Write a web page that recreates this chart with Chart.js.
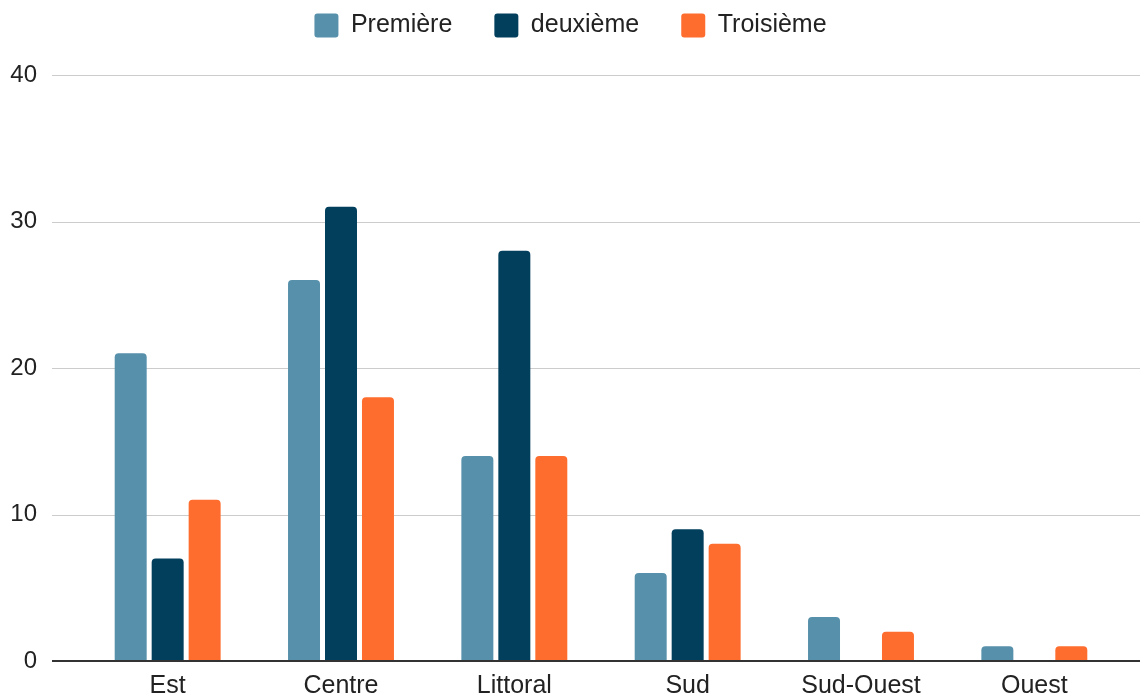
<!DOCTYPE html>
<html>
<head>
<meta charset="utf-8">
<script src="https://cdn.jsdelivr.net/npm/chart.js@4/dist/chart.umd.min.js"></script>
<style>
  html, body { margin: 0; padding: 0; background: #fff; }
  #wrap { width: 1140px; height: 695px; position: relative; }
</style>
</head>
<body>
<div id="wrap"><canvas id="c"></canvas></div>
<script>
const categories = ['Est', 'Centre', 'Littoral', 'Sud', 'Sud-Ouest', 'Ouest'];
const premiere = [21, 26, 14, 6, 3, 1];
const deuxieme = [7, 31, 28, 9, 0, 0];
const troisieme = [11, 18, 14, 8, 2, 1];
const seriesNames = ['Première', 'deuxième', 'Troisième'];
const yTicks = [0, 10, 20, 30, 40];

const FONT = "'Liberation Sans', Arial, sans-serif";
const LEGEND_PAD = 42;

const gridPlugin = {
  id: 'extGrid',
  beforeInit(chart) {
    const lg = chart.legend;
    if (lg) {
      const orig = lg.fit.bind(lg);
      lg.fit = function () { orig(); this.height = 75; };
    }
  },
  afterLayout(chart) {
    const lg = chart.legend;
    if (lg) {
      const d = LEGEND_PAD - 13;
      lg.top -= d; lg.bottom -= d;
      lg.left += 10; lg.right += 10;
    }
  },
  beforeDatasetsDraw(chart) {
    const y = chart.scales.y, ctx = chart.ctx;
    ctx.save();
    ctx.strokeStyle = '#cccccc';
    ctx.lineWidth = 1;
    yTicks.forEach(v => {
      if (v === 0) return;
      const py = Math.round(y.getPixelForValue(v)) + 0.5;
      ctx.beginPath(); ctx.moveTo(52, py); ctx.lineTo(1140, py); ctx.stroke();
    });
    ctx.restore();
  },
  afterDatasetsDraw(chart) {
    const y = chart.scales.y, ctx = chart.ctx;
    ctx.save();
    ctx.strokeStyle = '#333333';
    ctx.lineWidth = 2;
    const py = Math.round(y.getPixelForValue(0));
    ctx.beginPath(); ctx.moveTo(52, py); ctx.lineTo(1140, py); ctx.stroke();
    ctx.restore();
  }
};

new Chart(document.getElementById('c'), {
  type: 'bar',
  data: {
    labels: categories,
    datasets: [
      { label: seriesNames[0], data: premiere, backgroundColor: '#5790ab' },
      { label: seriesNames[1], data: deuxieme, backgroundColor: '#023f5d' },
      { label: seriesNames[2], data: troisieme, backgroundColor: '#ff6d2e' }
    ]
  },
  options: {
    responsive: true,
    maintainAspectRatio: false,
    animation: false,
    layout: { padding: { left: 0, right: 19, top: 0, bottom: 0 } },
    datasets: {
      bar: {
        categoryPercentage: 0.64,
        barPercentage: 0.865,
        borderRadius: 4,
        borderSkipped: 'start'
      }
    },
    plugins: {
      legend: {
        position: 'top',
        align: 'center',
        labels: {
          boxWidth: 24,
          boxHeight: 24,
          padding: LEGEND_PAD,
          color: '#222222',
          font: { family: FONT, size: 25 },
          generateLabels(chart) {
            return chart.data.datasets.map((ds, i) => ({
              text: ds.label,
              fillStyle: ds.backgroundColor,
              strokeStyle: ds.backgroundColor,
              lineWidth: 0,
              borderRadius: 3,
              fontColor: '#222222',
              hidden: false,
              datasetIndex: i
            }));
          }
        }
      },
      tooltip: { enabled: false }
    },
    scales: {
      x: {
        grid: { display: false, drawTicks: false },
        border: { display: false },
        ticks: { color: '#222222', font: { family: FONT, size: 25 }, padding: 10, maxRotation: 0, autoSkip: false },
        afterFit(scale) { scale.height = 34; }
      },
      y: {
        min: 0,
        max: 40,
        grid: { display: false, drawTicks: false },
        border: { display: false },
        afterBuildTicks(scale) { scale.ticks = yTicks.map(v => ({ value: v })); },
        ticks: { color: '#222222', font: { family: FONT, size: 24 }, padding: 44 },
        afterFit(scale) { scale.width = 81; scale.paddingTop = 0; scale.paddingBottom = 0; }
      }
    }
  },
  plugins: [gridPlugin]
});
</script>
</body>
</html>
